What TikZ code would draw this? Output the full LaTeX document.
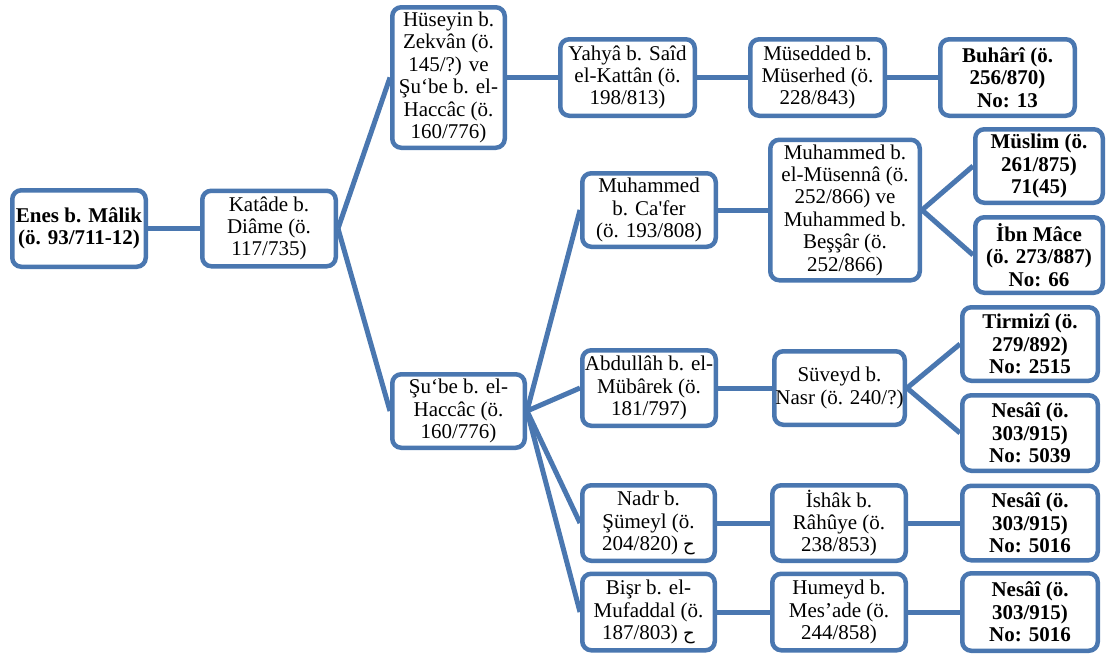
\documentclass[tikz,border=0pt]{standalone}
\usepackage{fontspec}
\newfontfamily\tnr{Liberation Serif}
\newfontfamily\arabicfont[Script=Arabic]{DejaVu Sans}
\TeXXeTstate=1
\definecolor{bcol}{RGB}{74,119,176}
\newcommand{\ha}{{\arabicfont\fontsize{18}{20}\selectfont\beginR ح\endR}}
\tikzset{
  box/.style={draw=bcol, line width=4.5pt, rounded corners=9pt, fill=white, inner sep=0pt, align=center,
    font=\tnr\fontsize{21}{22.4}\selectfont},
  bbox/.style={box, font=\tnr\bfseries\fontsize{21}{22.4}\selectfont},
  conn/.style={draw=bcol, line width=5pt}
}
\begin{document}
\begin{tikzpicture}[x=1pt,y=-1pt]
\useasboundingbox (0,0) rectangle (1107,656);
\node[bbox, minimum width=133.5, minimum height=76.5] (enes) at (79,228.5) {Enes b. Mâlik\\(ö. 93/711-12)};
\node[box, minimum width=133.5, minimum height=75.5] (katade) at (269,228.5) {Katâde b.\\Diâme (ö.\\117/735)};
\node[box, minimum width=112.5, minimum height=140.5] (huseyin) at (448.5,77.5) {Hüseyin b.\\Zekvân (ö.\\145/?) ve\\Şu‘be b. el-\\Haccâc (ö.\\160/776)};
\node[box, minimum width=134.5, minimum height=76.5] (yahya) at (627.5,77.5) {Yahyâ b. Saîd\\el-Kattân (ö.\\198/813)};
\node[box, minimum width=134.5, minimum height=76.5] (musedded) at (817.5,77.5) {Müsedded b.\\Müserhed (ö.\\228/843)};
\node[bbox, minimum width=134.5, minimum height=76.5] (buhari) at (1007.5,77.5) {Buhârî (ö.\\256/870)\\No: 13};
\node[box, minimum width=133.5, minimum height=73.5] (cafer) at (649,210) {Muhammed\\b. Ca'fer\\(ö. 193/808)};
\node[box, minimum width=149.5, minimum height=140.5] (musenna) at (845,210) {Muhammed b.\\el-Müsennâ (ö.\\252/866) ve\\Muhammed b.\\Beşşâr (ö.\\252/866)};
\node[bbox, minimum width=127.5, minimum height=73.5] (muslim) at (1039,166) {Müslim (ö.\\261/875)\\71(45)};
\node[bbox, minimum width=127.5, minimum height=75.5] (ibnmace) at (1039,255) {İbn Mâce\\(ö. 273/887)\\No: 66};
\node[box, minimum width=132.5, minimum height=73.5] (suube) at (458.5,411) {Şu‘be b. el-\\Haccâc (ö.\\160/776)};
\node[box, minimum width=133.5, minimum height=75.5] (abdullah) at (649,388) {Abdullâh b. el-\\Mübârek (ö.\\181/797)};
\node[box, minimum width=130.5, minimum height=73.5] (suveyd) at (839.5,388) {Süveyd b.\\Nasr (ö. 240/?)};
\node[bbox, minimum width=135.5, minimum height=73.5] (tirmizi) at (1030,344) {Tirmizî (ö.\\279/892)\\No: 2515};
\node[bbox, minimum width=135.5, minimum height=75.5] (nesaia) at (1030,433) {Nesâî (ö.\\303/915)\\No: 5039};
\node[box, minimum width=132.5, minimum height=75.5] (nadr) at (648.5,523) {Nadr b.\\Şümeyl (ö.\\204/820) \ha};
\node[box, minimum width=133.5, minimum height=75.5] (ishak) at (839,523) {İshâk b.\\Râhûye (ö.\\238/853)};
\node[bbox, minimum width=135.5, minimum height=74.5] (nesaib) at (1030,523) {Nesâî (ö.\\303/915)\\No: 5016};
\node[box, minimum width=132.5, minimum height=76.5] (bisr) at (648.5,612) {Bişr b. el-\\Mufaddal (ö.\\187/803) \ha};
\node[box, minimum width=133.5, minimum height=76.5] (humeyd) at (839,612) {Humeyd b.\\Mes’ade (ö.\\244/858)};
\node[bbox, minimum width=135.5, minimum height=77.5] (nesaic) at (1030,612) {Nesâî (ö.\\303/915)\\No: 5016};
\draw[conn] (enes.east) -- (katade.west);
\draw[conn] (katade.east) -- (huseyin.west);
\draw[conn] (katade.east) -- (suube.west);
\draw[conn] (huseyin.east) -- (yahya.west);
\draw[conn] (yahya.east) -- (musedded.west);
\draw[conn] (musedded.east) -- (buhari.west);
\draw[conn] (suube.east) -- (cafer.west);
\draw[conn] (suube.east) -- (abdullah.west);
\draw[conn] (suube.east) -- (nadr.west);
\draw[conn] (suube.east) -- (bisr.west);
\draw[conn] (cafer.east) -- (musenna.west);
\draw[conn] (musenna.east) -- (muslim.west);
\draw[conn] (musenna.east) -- (ibnmace.west);
\draw[conn] (abdullah.east) -- (suveyd.west);
\draw[conn] (suveyd.east) -- (tirmizi.west);
\draw[conn] (suveyd.east) -- (nesaia.west);
\draw[conn] (nadr.east) -- (ishak.west);
\draw[conn] (ishak.east) -- (nesaib.west);
\draw[conn] (bisr.east) -- (humeyd.west);
\draw[conn] (humeyd.east) -- (nesaic.west);
\end{tikzpicture}
\end{document}
